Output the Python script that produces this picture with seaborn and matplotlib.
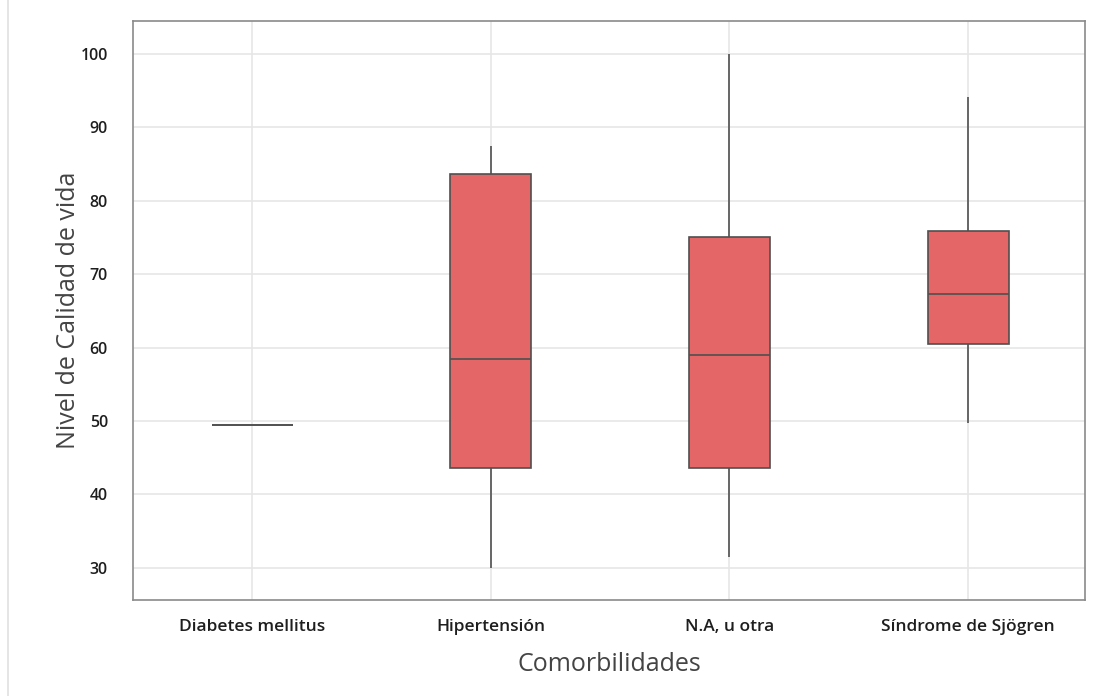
import numpy as np
import pandas as pd
import matplotlib
matplotlib.use("Agg")
import matplotlib.pyplot as plt
import seaborn as sns

categories = ["Diabetes mellitus", "Hipertensión", "N.A, u otra", "Síndrome de Sjögren"]
# five-number summaries: min, Q1, median, Q3, max
diabetes = [49.5]
hipertension = [29.9, 43.6, 58.4, 83.6, 87.5]
na_otra = [31.5, 43.6, 59.0, 75.1, 100.0]
sjogren = [49.7, 60.5, 67.3, 75.9, 94.2]

groups = [diabetes, hipertension, na_otra, sjogren]
rows = []
for cat, vals in zip(categories, groups):
    for v in vals:
        rows.append({"Comorbilidades": cat, "Nivel": v})
df = pd.DataFrame(rows)

sns.set_theme(style="whitegrid")
plt.rcParams['font.family'] = ['Open Sans', 'DejaVu Sans']

fig = plt.figure(figsize=(10.96, 6.96), dpi=100)
ax = fig.add_axes([133/1096, 1 - 600/696, (1085-133)/1096, (600-21)/696])

sns.boxplot(data=df, x="Comorbilidades", y="Nivel", order=categories,
            color="#E46667", saturation=1, width=0.34, whis=np.inf,
            showcaps=False, linewidth=1.2, linecolor="#505050", ax=ax)

ax.set_ylim(25.6, 104.5)
ax.set_xlim(-0.5, 3.49)
ax.set_yticks([30, 40, 50, 60, 70, 80, 90, 100])
ax.grid(True, color="#E6E6E6", linewidth=1.2)
ax.set_axisbelow(True)
for s in ax.spines.values():
    s.set_color("#8A8A8A")
    s.set_linewidth(1.2)
ax.tick_params(axis='both', which='both', length=6, color="#8A8A8A", width=1,
               labelcolor="#1E1E1E")
ax.tick_params(axis='y', pad=12)
ax.tick_params(axis='x', pad=8)
for lbl in ax.get_yticklabels():
    lbl.set_fontsize(11.5)
    lbl.set_fontweight('semibold')
for lbl in ax.get_xticklabels():
    lbl.set_fontsize(12.5)
    lbl.set_fontweight('semibold')
ax.set_xlabel("Comorbilidades", fontsize=18, color="#444444", labelpad=12)
ax.set_ylabel("Nivel de Calidad de vida", fontsize=18, color="#444444", labelpad=0)

fig.add_artist(plt.Line2D([8/1096, 8/1096], [0, 1], color="#E0E0E0", linewidth=1.2,
                          transform=fig.transFigure))

fig.savefig("out.png", dpi=100, facecolor="white")
